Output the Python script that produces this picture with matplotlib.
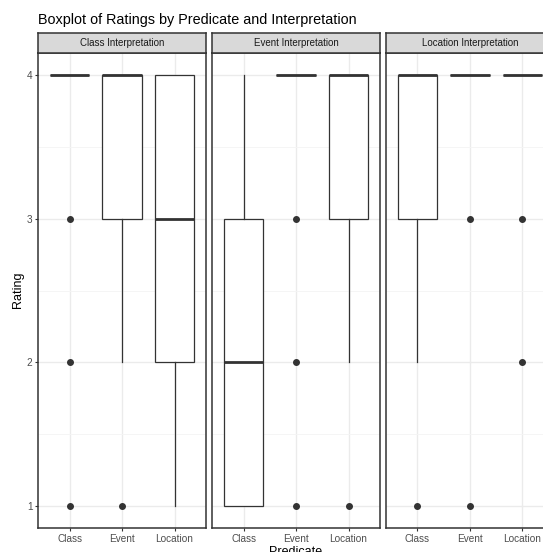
import matplotlib.pyplot as plt

plt.rcParams['font.family'] = ['Liberation Sans', 'DejaVu Sans']

# 数据
panels = ['Class Interpretation', 'Event Interpretation', 'Location Interpretation']
categories = ['Class', 'Event', 'Location']
q1 = [[4, 3, 2], [1, 4, 3], [3, 4, 4]]
med = [[4, 4, 3], [2, 4, 4], [4, 4, 4]]
q3 = [[4, 4, 4], [3, 4, 4], [4, 4, 4]]
whislo = [[4, 2, 1], [1, 4, 2], [2, 4, 4]]
whishi = [[4, 4, 4], [4, 4, 4], [4, 4, 4]]
fliers = [[[1, 2, 3], [1], []],
          [[], [1, 2, 3], [1]],
          [[1], [1, 3], [2, 3]]]
yticks = [1, 2, 3, 4]

W, H = 543, 552
fig = plt.figure(figsize=(W / 100, H / 100), dpi=100)

dark = '#333333'
left0, pw, gap = 38, 168, 6
top, bottom = 53, 528
strip_h = 20

for i, name in enumerate(panels):
    x0 = left0 + i * (pw + gap)
    ax = fig.add_axes([x0 / W, 1 - bottom / H, pw / W, (bottom - top) / H])
    stats = []
    for j, cat in enumerate(categories):
        stats.append(dict(label=cat, q1=q1[i][j], med=med[i][j], q3=q3[i][j],
                          whislo=whislo[i][j], whishi=whishi[i][j],
                          fliers=fliers[i][j]))
    ax.bxp(stats, positions=[1, 2, 3], widths=0.75, showcaps=False,
           patch_artist=True,
           boxprops=dict(facecolor='white', edgecolor=dark, linewidth=0.9),
           whiskerprops=dict(color=dark, linewidth=0.9),
           medianprops=dict(color=dark, linewidth=2.0, solid_capstyle='butt'),
           flierprops=dict(marker='o', markerfacecolor=dark, markeredgecolor=dark,
                           markersize=4))
    ax.set_xlim(0.4, 3.6)
    ax.set_ylim(0.85, 4.15)
    ax.set_yticks(yticks)
    ax.set_yticks([1.5, 2.5, 3.5], minor=True)
    ax.set_xticks([1, 2, 3])
    ax.set_xticklabels(categories)
    ax.grid(True, which='major', color='#EBEBEB', linewidth=1.0)
    ax.grid(True, which='minor', axis='y', color='#F4F4F4', linewidth=0.6)
    ax.set_axisbelow(True)
    ax.tick_params(which='minor', length=0)
    ax.tick_params(which='major', length=2.5, width=0.8, color=dark,
                   labelcolor='#4D4D4D', labelsize=7.2, pad=1.5)
    if i > 0:
        ax.tick_params(axis='y', left=False, labelleft=False)
    for s in ax.spines.values():
        s.set_color(dark)
        s.set_linewidth(1.1)
    # 分面标题条
    sax = fig.add_axes([x0 / W, 1 - top / H, pw / W, strip_h / H])
    sax.set_facecolor('#D9D9D9')
    sax.set_xticks([])
    sax.set_yticks([])
    for s in sax.spines.values():
        s.set_color(dark)
        s.set_linewidth(1.1)
    sax.text(0.5, 0.5, name, ha='center', va='center', fontsize=7.0,
             color='#1A1A1A', transform=sax.transAxes)

fig.text(38 / W, 1 - 20 / H, 'Boxplot of Ratings by Predicate and Interpretation',
         ha='left', va='center', fontsize=10.4, color='black')
fig.text(18 / W, 1 - 290 / H, 'Rating', rotation=90, ha='center', va='center',
         fontsize=9, color='black')
fig.text(296 / W, 1 - 546 / H, 'Predicate', ha='center', va='top',
         fontsize=9, color='black')

fig.savefig('out.png', dpi=100)
